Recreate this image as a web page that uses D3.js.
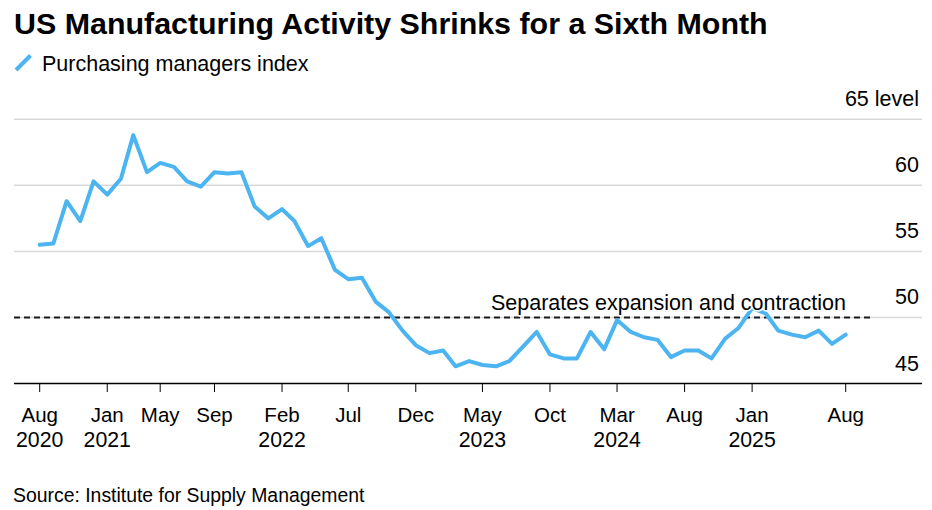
<!DOCTYPE html>
<html>
<head>
<meta charset="utf-8">
<script src="https://cdn.jsdelivr.net/npm/d3@7"></script>
<style>
  body { margin: 0; background: #fff; }
  svg text { font-family: "Liberation Sans", Arial, sans-serif; fill: #000; }
</style>
</head>
<body>
<div id="chart"></div>
<script>
// ISM purchasing managers index, monthly, Aug 2020 - Aug 2025
var startYear = 2020, startMonth = 7; // August (0-based)
var pmiValues = [
  55.5, 55.6, 58.8, 57.3, 60.3,
  59.3, 60.5, 63.8, 61.0, 61.7, 61.4, 60.3, 59.9, 61.0, 60.9, 61.0, 58.4,
  57.5, 58.2, 57.3, 55.4, 56.0, 53.6, 52.9, 53.0, 51.2, 50.4, 49.0, 47.9,
  47.3, 47.5, 46.3, 46.7, 46.4, 46.3, 46.7, 47.8, 48.9, 47.2, 46.9, 46.9,
  48.9, 47.6, 49.8, 48.9, 48.5, 48.3, 47.0, 47.5, 47.5, 46.9, 48.4, 49.2,
  50.7, 50.3, 49.0, 48.7, 48.5, 49.0, 48.0, 48.7
];
var tickMonths = ['2020-08', '2021-01', '2021-05', '2021-09', '2022-02', '2022-07', '2022-12',
                  '2023-05', '2023-10', '2024-03', '2024-08', '2025-01', '2025-08'];
var tickYears = ['2020', '2021', '', '', '2022', '', '', '2023', '', '2024', '', '2025', ''];
var yTicks = [45, 50, 55, 60, 65];
var thresholdValue = 50;

var width = 932, height = 510;
var svg = d3.select('#chart').append('svg')
    .attr('width', width)
    .attr('height', height);

var data = pmiValues.map(function(v, i) {
    return { date: new Date(startYear, startMonth + i, 1), value: v };
});
var parseMonth = d3.timeParse('%Y-%m');

var x = d3.scaleTime()
    .domain([data[0].date, data[data.length - 1].date])
    .range([39.7, 845.7]);
var y = d3.scaleLinear()
    .domain([45, 65])
    .range([383.5, 119.3]);

var left = 14, right = 922;

//Title and legend
svg.append('text')
    .attr('x', 14).attr('y', 33.5)
    .style('font-size', '30.4px')
    .style('font-weight', 'bold')
    .text('US Manufacturing Activity Shrinks for a Sixth Month');

svg.append('line')
    .attr('x1', 16).attr('y1', 70).attr('x2', 30.5).attr('y2', 55.5)
    .attr('stroke', '#4cb4f0').attr('stroke-width', 4);
svg.append('text')
    .attr('x', 42).attr('y', 71)
    .style('font-size', '21.5px')
    .text('Purchasing managers index');

//Gridlines + right-hand labels
var grid = svg.append('g').attr('id', 'gridGroup');
grid.selectAll('.grid')
    .data(yTicks.filter(function(d) { return d !== 45; }))
    .enter().append('line')
    .attr('class', 'grid')
    .attr('x1', left).attr('x2', right)
    .attr('y1', function(d) { return y(d); })
    .attr('y2', function(d) { return y(d); })
    .attr('stroke', '#d9d9d9').attr('stroke-width', 1.5);
grid.selectAll('.yLabel')
    .data(yTicks)
    .enter().append('text')
    .attr('class', 'yLabel')
    .attr('x', 919)
    .attr('y', function(d) { return y(d) - 13; })
    .attr('text-anchor', 'end')
    .style('font-size', '21.5px')
    .text(function(d) { return d === 65 ? '65 level' : d; });

//Threshold line
svg.append('line')
    .attr('x1', left).attr('x2', 871)
    .attr('y1', y(thresholdValue)).attr('y2', y(thresholdValue))
    .attr('stroke', '#1a1a1a').attr('stroke-width', 2)
    .attr('stroke-dasharray', '6,4');

//PMI line
var line = d3.line()
    .x(function(d) { return x(d.date); })
    .y(function(d) { return y(d.value); });
svg.append('path')
    .datum(data)
    .attr('d', line)
    .attr('fill', 'none')
    .attr('stroke', '#4cb4f0')
    .attr('stroke-width', 4)
    .attr('stroke-linejoin', 'round')
    .attr('stroke-linecap', 'round');

//Threshold annotation (white halo over the line)
svg.append('text')
    .attr('x', 846).attr('y', 309.5)
    .attr('text-anchor', 'end')
    .style('font-size', '21.5px')
    .style('paint-order', 'stroke')
    .style('stroke', '#fff').style('stroke-width', 3).style('stroke-linejoin', 'round')
    .text('Separates expansion and contraction');

//X axis
var axisGroup = svg.append('g').attr('id', 'xAxisGroup');
axisGroup.append('line')
    .attr('x1', left).attr('x2', right)
    .attr('y1', 383.5).attr('y2', 383.5)
    .attr('stroke', '#000').attr('stroke-width', 1.5);
var ticks = axisGroup.selectAll('.xTick')
    .data(tickMonths)
    .enter().append('g')
    .attr('class', 'xTick')
    .attr('transform', function(d) { return 'translate(' + x(parseMonth(d)) + ',0)'; });
ticks.append('line')
    .attr('y1', 383.5).attr('y2', 392)
    .attr('stroke', '#000').attr('stroke-width', 1);
ticks.append('text')
    .attr('y', 422)
    .attr('text-anchor', 'middle')
    .style('font-size', '20.5px')
    .text(function(d) { return d3.timeFormat('%b')(parseMonth(d)); });
ticks.append('text')
    .attr('y', 446.5)
    .attr('text-anchor', 'middle')
    .style('font-size', '21.3px')
    .text(function(d, i) { return tickYears[i]; });

//Source
svg.append('text')
    .attr('x', 13).attr('y', 502)
    .style('font-size', '19.4px')
    .text('Source: Institute for Supply Management');
</script>
</body>
</html>
